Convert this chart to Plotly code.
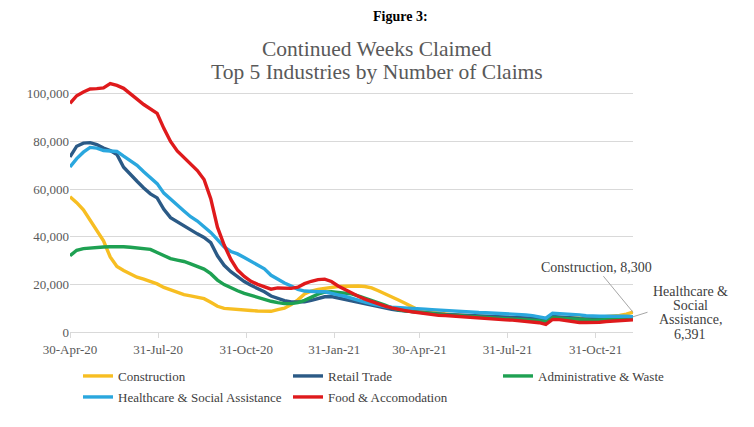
import numpy as np
import pandas as pd
import plotly.graph_objects as go

# Weekly continued claims (thousands), first week 30-Apr-2020, 85 weeks
start_date = "2020-04-30"
n_weeks = 85

construction = [56.8, 54.3, 51.3, 46.8, 42.7, 38.3, 31.5, 27.5, 25.8, 24.5,
                23.0, 22.2, 21.3, 20.2, 18.7, 17.6, 16.6, 15.7, 15.2, 14.6,
                14.0, 12.5, 10.8, 9.9, 9.6, 9.4, 9.2, 9.0, 8.8, 8.8,
                8.7, 9.4, 10.0, 11.5, 13.5, 16.0, 17.2, 17.9, 18.4, 18.8,
                19.1, 19.2, 19.3, 19.3, 19.1, 18.5, 17.3, 15.9, 14.5, 13.4,
                12.1, 10.5, 9.2, 8.6, 8.2, 7.8, 7.5, 7.3, 7.1, 6.9,
                6.7, 6.5, 6.3, 6.2, 6.1, 6.0, 5.9, 5.7, 5.5, 5.3,
                5.0, 4.5, 6.0, 6.0, 5.9, 5.8, 5.8, 5.9, 6.0, 6.2,
                6.4, 6.7, 7.0, 7.5, 8.3]

retail = [73.5, 78.0, 79.3, 79.5, 78.7, 77.2, 76.2, 74.5, 69.2, 66.0,
          63.3, 60.5, 58.0, 56.3, 51.5, 48.0, 46.2, 44.6, 43.0, 41.2,
          39.7, 37.5, 32.0, 28.0, 25.3, 23.1, 21.2, 19.6, 18.2, 16.9,
          15.1, 14.0, 13.2, 12.6, 12.5, 12.7, 13.3, 14.0, 14.8, 14.9,
          14.3, 13.7, 13.1, 12.5, 11.8, 11.0, 10.4, 9.8, 9.5, 9.1,
          8.8, 8.5, 8.2, 8.0, 7.8, 7.6, 7.4, 7.3, 7.2, 7.0,
          6.8, 6.7, 6.6, 6.5, 6.4, 6.3, 6.2, 6.1, 6.0, 5.8,
          5.5, 5.0, 6.5, 6.4, 6.2, 5.9, 5.6, 5.5, 5.5, 5.5,
          5.6, 5.8, 5.9, 6.0, 6.1]

admin = [32.0, 34.3, 35.0, 35.3, 35.5, 35.7, 35.8, 35.9, 35.8, 35.6,
         35.4, 35.1, 34.7, 33.4, 32.0, 30.8, 30.2, 29.6, 28.6, 27.6,
         26.4, 24.5, 21.8, 19.9, 18.5, 17.3, 16.2, 15.3, 14.5, 13.6,
         12.9, 12.3, 11.9, 11.9, 12.3, 13.3, 14.6, 15.9, 16.7, 16.9,
         16.6, 16.4, 16.0, 15.2, 14.3, 13.4, 12.5, 11.3, 10.2, 9.3,
         8.9, 8.6, 8.2, 7.8, 7.5, 7.3, 7.2, 7.1, 6.9, 6.6,
         6.4, 6.1, 5.9, 5.8, 5.7, 5.6, 5.5, 5.4, 5.2, 5.0,
         4.7, 4.3, 6.0, 5.8, 5.6, 5.3, 5.1, 5.0, 5.0, 5.1,
         5.3, 5.4, 5.5, 5.6, 5.6]

healthcare = [69.3, 72.8, 75.5, 77.5, 77.2, 76.2, 76.0, 75.8, 73.8, 71.8,
              70.0, 67.3, 64.6, 62.3, 58.3, 55.6, 53.3, 50.8, 48.4, 46.6,
              44.3, 41.8, 38.8, 35.7, 33.8, 32.8, 31.3, 29.8, 28.3, 26.5,
              23.8, 22.0, 20.6, 19.3, 17.9, 17.2, 16.9, 16.9, 16.9, 16.4,
              15.6, 15.0, 14.1, 13.3, 12.5, 11.8, 11.2, 10.7, 10.4, 10.3,
              10.2, 10.1, 9.9, 9.6, 9.4, 9.2, 9.1, 8.9, 8.5, 8.3,
              8.2, 8.2, 8.1, 8.0, 7.9, 7.8, 7.6, 7.4, 7.2, 6.9,
              6.5, 5.8, 7.9, 7.8, 7.7, 7.5, 7.2, 6.8, 6.6, 6.6,
              6.6, 6.7, 6.8, 6.6, 6.391]

food = [96.0, 99.2, 100.8, 102.0, 102.2, 102.5, 104.3, 103.5, 102.3, 100.2,
        97.8, 95.5, 93.8, 91.8, 85.5, 80.0, 76.0, 73.2, 70.8, 67.8,
        64.0, 56.0, 44.0, 36.5, 30.5, 26.0, 23.3, 21.3, 20.0, 19.0,
        18.0, 18.5, 18.5, 18.3, 18.8, 20.3, 21.3, 22.0, 22.2, 21.2,
        19.3, 17.8, 16.3, 15.0, 13.8, 12.8, 11.7, 10.9, 10.1, 9.4,
        9.0, 8.5, 8.1, 7.6, 7.2, 7.0, 6.9, 6.7, 6.3, 6.1,
        5.8, 5.6, 5.5, 5.3, 5.2, 5.1, 5.0, 4.8, 4.6, 4.3,
        3.9, 3.2, 5.3, 5.2, 4.8, 4.3, 4.0, 4.0, 4.0, 4.1,
        4.4, 4.6, 4.6, 4.8, 5.1]

series_names = ["Construction", "Retail Trade", "Administrative & Waste",
                "Healthcare & Social Assistance", "Food & Accomodation"]
series_values = [construction, retail, admin, healthcare, food]
series_colors = ["#F7BE22", "#2B5A86", "#1EA152", "#2AA7DE", "#DF1A1C"]

tick_dates = ["2020-04-30", "2020-07-31", "2020-10-31", "2021-01-31",
              "2021-04-30", "2021-07-31", "2021-10-31"]
tick_labels = ["30-Apr-20", "31-Jul-20", "31-Oct-20", "31-Jan-21",
               "30-Apr-21", "31-Jul-21", "31-Oct-21"]

healthcare_label_lines = ["Healthcare &", "Social", "Assistance,",
                          f"{healthcare[-1] * 1000:,.0f}"]

dates = pd.date_range(start_date, periods=n_weeks, freq="7D")

FONT = "Liberation Serif"
L, R, T, B = 70, 121, 70, 95
W, H = 754, 427
PH = H - T - B
PW = W - L - R


def py(y_px):
    return (H - B - y_px) / PH


def px(x_px):
    return (x_px - L) / PW


# legend slots (left px, row centre px): 3 columns x 2 rows
legend_slots = [(78, 376), (288, 376), (498, 376), (78, 397), (288, 397)]
legend_ids = ["legend", "legend2", "legend3", "legend4", "legend5"]

fig = go.Figure()
for name, vals, color, lid in zip(series_names, series_values, series_colors, legend_ids):
    fig.add_trace(go.Scatter(x=dates, y=np.array(vals) * 1000, mode="lines",
                             name=name, legend=lid, line=dict(color=color, width=3.4)))

legend_layout = {}
for lid, (lx, ly) in zip(legend_ids, legend_slots):
    legend_layout[lid] = dict(orientation="h", x=px(lx), y=py(ly - 15),
                              xanchor="left", yanchor="top", bgcolor="rgba(0,0,0,0)",
                              font=dict(family=FONT, size=13, color="#404040"))

fig.update_layout(
    width=W, height=H,
    margin=dict(l=L, r=R, t=T, b=B, autoexpand=False),
    paper_bgcolor="white", plot_bgcolor="white",
    font=dict(family=FONT, color="#595959", size=13),
    showlegend=True,
    **legend_layout,
)
fig.update_xaxes(range=[dates[0], dates[-1]], tickvals=tick_dates, ticktext=tick_labels,
                 ticks="outside", ticklen=5, tickcolor="#d9d9d9", showline=True,
                 linecolor="#d9d9d9", linewidth=1, showgrid=False, zeroline=False,
                 tickfont=dict(size=13, color="#595959"))
fig.update_yaxes(range=[0, 110000], dtick=20000, tick0=0, tickformat=",",
                 gridcolor="#d9d9d9", showline=False, zeroline=False,
                 tickfont=dict(size=13, color="#595959"))

# Titles
fig.add_annotation(text="<b>Figure 3:</b>", xref="paper", yref="paper",
                   x=px(400), y=py(16), xanchor="center", yanchor="middle", showarrow=False,
                   font=dict(family=FONT, size=14, color="#000000"))
fig.add_annotation(text="Continued Weeks Claimed", xref="paper", yref="paper",
                   x=px(377), y=py(49), xanchor="center", yanchor="middle", showarrow=False,
                   font=dict(family=FONT, size=21.5, color="#595959"))
fig.add_annotation(text="Top 5 Industries by Number of Claims", xref="paper", yref="paper",
                   x=px(377), y=py(72), xanchor="center", yanchor="middle", showarrow=False,
                   font=dict(family=FONT, size=21.5, color="#595959"))

# End-point data labels
fig.add_annotation(x=dates[-1], y=construction[-1] * 1000,
                   text=f"Construction, {construction[-1] * 1000:,.0f}",
                   showarrow=True, arrowhead=0, arrowwidth=1, arrowcolor="#a6a6a6",
                   ax=-37, ay=-45, font=dict(family=FONT, size=14, color="#404040"))
fig.add_annotation(x=dates[-1], y=healthcare[-1] * 1000, text="",
                   showarrow=True, arrowhead=0, arrowwidth=1, arrowcolor="#a6a6a6",
                   ax=16, ay=-5)
for i, line in enumerate(healthcare_label_lines):
    fig.add_annotation(text=line, xref="paper", yref="paper",
                       x=px(690), y=py(291 + 14.4 * i), xanchor="center", yanchor="middle",
                       showarrow=False,
                       font=dict(family=FONT, size=14, color="#404040"))

fig.write_html("out.html", config={"displayModeBar": False},
               post_script="document.body.style.margin='0px';")
